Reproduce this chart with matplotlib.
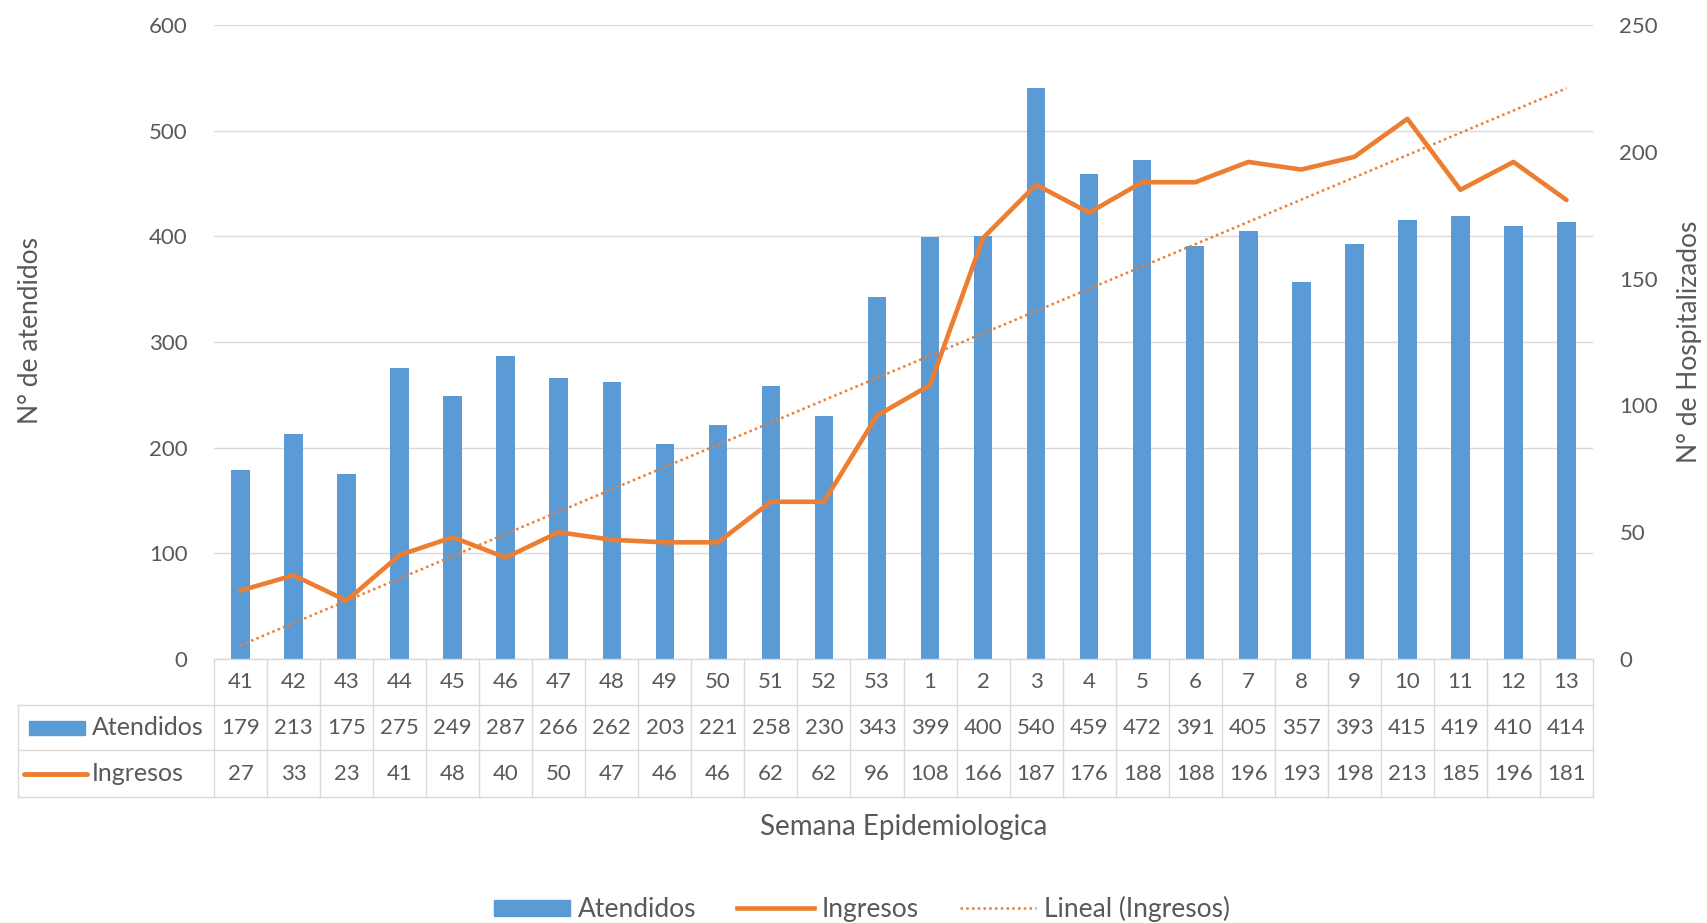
import numpy as np
import matplotlib
matplotlib.use("Agg")
import matplotlib.pyplot as plt
from matplotlib.patches import Patch, Rectangle
from matplotlib.lines import Line2D

semanas = ["41", "42", "43", "44", "45", "46", "47", "48", "49", "50", "51", "52", "53",
           "1", "2", "3", "4", "5", "6", "7", "8", "9", "10", "11", "12", "13"]
atendidos = [179, 213, 175, 275, 249, 287, 266, 262, 203, 221, 258, 230, 343,
             399, 400, 540, 459, 472, 391, 405, 357, 393, 415, 419, 410, 414]
ingresos = [27, 33, 23, 41, 48, 40, 50, 47, 46, 46, 62, 62, 96,
            108, 166, 187, 176, 188, 188, 196, 193, 198, 213, 185, 196, 181]
left_ticks = [0, 100, 200, 300, 400, 500, 600]
right_ticks = [0, 50, 100, 150, 200, 250]

BLUE = "#5B9BD5"
ORANGE = "#ED7D31"
TXT = "#595959"
GRID = "#D9D9D9"
FS = 16
FL = 19

plt.rcParams['font.family'] = ['Lato', 'DejaVu Sans']

W, H = 1707, 923
fig = plt.figure(figsize=(W / 100, H / 100), dpi=100)
L, R, T, B = 214, 1593, 25, 659
ax = fig.add_axes([L / W, 1 - B / H, (R - L) / W, (B - T) / H])
ax2 = ax.twinx()

n = len(semanas)
x = np.arange(n)
ax.bar(x, atendidos, width=0.35, color=BLUE, zorder=2)
ax.set_xlim(-0.5, n - 0.5)
ax.set_ylim(0, 600)
ax.set_yticks(left_ticks)
ax.yaxis.grid(True, color=GRID, lw=1)
ax.set_axisbelow(True)
ax.set_xticks([])
for s in ax.spines.values():
    s.set_visible(False)
for s in ax2.spines.values():
    s.set_visible(False)
ax.tick_params(axis='y', length=0, pad=19, labelsize=FS, labelcolor=TXT)

ax2.plot(x, ingresos, color=ORANGE, lw=3.3, solid_capstyle='round', zorder=3)
coef = np.polyfit(x, ingresos, 1)
trend = np.polyval(coef, x)
ax2.plot(x, trend, color=ORANGE, lw=1.8, ls=(0, (1, 1.3)), zorder=3)
ax2.set_ylim(0, 250)
ax2.set_yticks(right_ticks)
ax2.tick_params(axis='y', length=0, pad=19, labelsize=FS, labelcolor=TXT)

# data table
ph = B - T
r1, r2, r3 = -46 / ph, -91 / ph, -138 / ph
xleft = (18 - L) / (R - L)
btr = ax.get_xaxis_transform()
kw = dict(color=GRID, lw=1, clip_on=False)
ax.plot([-0.5, n - 0.5], [0, 0], transform=btr, **kw)
for k in range(n + 1):
    ax.plot([k - 0.5, k - 0.5], [0, r3], transform=btr, **kw)
for yy in (r1, r2, r3):
    ax.plot([xleft, 1], [yy, yy], transform=ax.transAxes, **kw)
ax.plot([xleft, xleft], [r1, r3], transform=ax.transAxes, **kw)

for i in range(n):
    ax.text(i, (0 + r1) / 2, semanas[i], transform=btr, ha='center', va='center',
            fontsize=FS, color=TXT)
    ax.text(i, (r1 + r2) / 2, str(atendidos[i]), transform=btr, ha='center', va='center',
            fontsize=FS, color=TXT)
    ax.text(i, (r2 + r3) / 2, str(ingresos[i]), transform=btr, ha='center', va='center',
            fontsize=FS, color=TXT)

def fx(px):
    return (px - L) / (R - L)

ym1 = (r1 + r2) / 2
ym2 = (r2 + r3) / 2
ax.add_patch(Rectangle((fx(29), ym1 - 7 / ph), fx(85) - fx(29), 14 / ph,
                       transform=ax.transAxes, color=BLUE, clip_on=False))
ax.plot([fx(24), fx(87)], [ym2, ym2], transform=ax.transAxes, color=ORANGE, lw=3.5,
        solid_capstyle='round', clip_on=False)
ax.text(fx(92), ym1, "Atendidos", transform=ax.transAxes, ha='left', va='center',
        fontsize=18, color=TXT)
ax.text(fx(92), ym2, "Ingresos", transform=ax.transAxes, ha='left', va='center',
        fontsize=18, color=TXT)

fig.text(30 / W, 1 - 330 / H, "N° de atendidos", rotation=90, ha='center', va='center',
         fontsize=FL, color=TXT)
fig.text(1690 / W, 1 - 342 / H, "N° de Hospitalizados", rotation=90, ha='center', va='center',
         fontsize=FL, color=TXT)
fig.text(904 / W, 1 - 827 / H, "Semana Epidemiologica", ha='center', va='center',
         fontsize=20, color=TXT)

handles = [Patch(facecolor=BLUE, edgecolor=BLUE),
           Line2D([], [], color=ORANGE, lw=3.3),
           Line2D([], [], color=ORANGE, lw=1.8, ls=(0, (1, 1.3)))]
labels = ["Atendidos", "Ingresos", "Lineal (Ingresos)"]
fig.legend(handles, labels, loc='center', bbox_to_anchor=(862 / W, 1 - 909 / H), ncol=3,
           frameon=False, fontsize=FL, labelcolor=TXT, handlelength=2.9,
           handletextpad=0.3, columnspacing=1.55, handleheight=0.55)

fig.savefig("out.png", dpi=100)
